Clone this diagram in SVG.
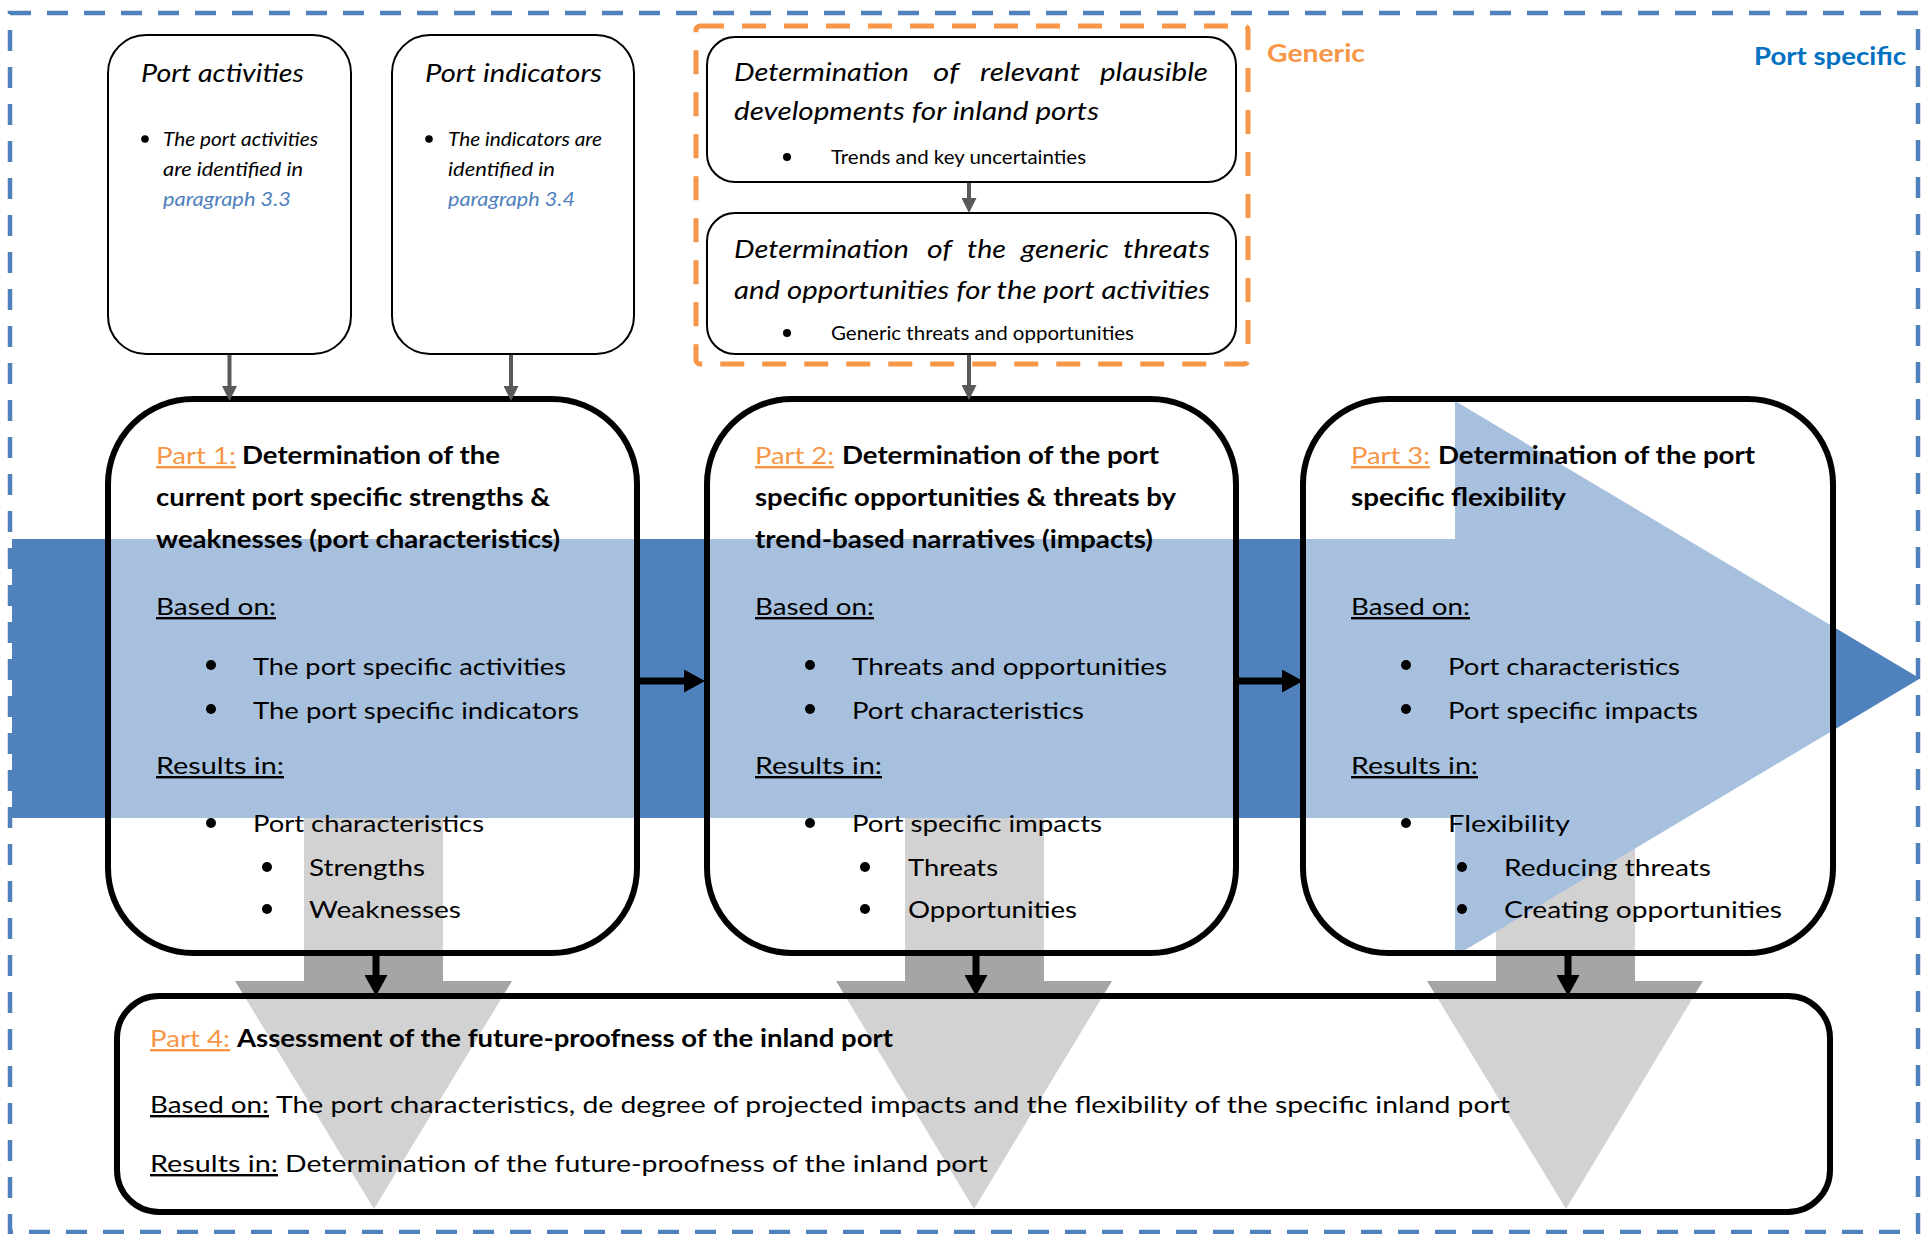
<svg xmlns="http://www.w3.org/2000/svg" width="1929" height="1234" viewBox="0 0 1929 1234">
<defs>
<style>
text{font-family:Lato,"Liberation Sans",sans-serif;fill:#000;}
.it{font-style:italic}
.b{font-weight:bold}
.u{text-decoration:underline}
.or{fill:#F79646}
.body{font-size:24px}
.hd{font-size:24px;font-weight:bold}
.ttl{font-size:26px;font-style:italic}
.sm{font-size:20px;font-style:italic}
.det{font-size:19px}
.lnk{fill:#4F81BD}
.small{stroke:#000;stroke-width:2;fill:#fff}
.part{stroke:#000;stroke-width:6;fill:#fff;fill-opacity:0.5}
.gbig{fill:#A5A5A5}
.gc{stroke:#595959;stroke-width:4;fill:none}
.bc{stroke:#000;stroke-width:7;fill:none}
</style>
<marker id="mg" markerUnits="userSpaceOnUse" markerWidth="15" markerHeight="15" refX="0" refY="7.5" orient="auto"><path d="M0,0 L15,7.5 L0,15 z" fill="#595959"/></marker>
<marker id="mb" markerUnits="userSpaceOnUse" markerWidth="21" markerHeight="23" refX="0" refY="11.5" orient="auto"><path d="M0,0 L21,11.5 L0,23 z" fill="#000"/></marker>
</defs>
<rect width="1929" height="1234" fill="#fff"/>

<g id="background-arrows">
<polygon class="gbig" points="304,760 443,760 443,981 512,981 374,1209 235,981 304,981"/>
<polygon class="gbig" points="905,760 1044,760 1044,981 1112,981 974,1209 836,981 905,981"/>
<polygon class="gbig" points="1496,760 1635,760 1635,981 1703,981 1566,1209 1427,981 1496,981"/>
<polygon fill="#4F81BD" points="12,539 1455,539 1455,401 1920,678.5 1455,956 1455,818 12,818"/>
</g>

<g id="frame-port-specific">
<rect x="10" y="13" width="1908" height="1219" fill="none" stroke="#4F81BD" stroke-width="4.5" stroke-dasharray="21 16"/>
<text x="1754" y="65" class="b" font-size="25" fill="#0070C0" style="fill:#0070C0" textLength="152" lengthAdjust="spacingAndGlyphs">Port specific</text>
</g>

<g id="frame-generic">
<rect x="696" y="26" width="552" height="338" rx="4" fill="none" stroke="#F79646" stroke-width="5" stroke-dasharray="24 18"/>
<text x="1267" y="62" class="b or" font-size="25" textLength="98" lengthAdjust="spacingAndGlyphs">Generic</text>
</g>

<g id="node-port-activities">
<rect class="small" x="108" y="35" width="243" height="319" rx="38"/>
<text x="141" y="82" class="ttl" textLength="163" lengthAdjust="spacingAndGlyphs">Port activities</text>
<circle cx="145" cy="139" r="3.8"/>
<text x="163" y="146" class="sm" textLength="155" lengthAdjust="spacingAndGlyphs">The port activities</text>
<text x="163" y="176" class="sm" textLength="140" lengthAdjust="spacingAndGlyphs">are identified in</text>
<text x="163" y="206" class="sm lnk" textLength="128" lengthAdjust="spacingAndGlyphs">paragraph 3.3</text>
</g>

<g id="node-port-indicators">
<rect class="small" x="392" y="35" width="242" height="319" rx="38"/>
<text x="425" y="82" class="ttl" textLength="177" lengthAdjust="spacingAndGlyphs">Port indicators</text>
<circle cx="429" cy="139" r="3.8"/>
<text x="448" y="146" class="sm" textLength="154" lengthAdjust="spacingAndGlyphs">The indicators are</text>
<text x="448" y="176" class="sm" textLength="107" lengthAdjust="spacingAndGlyphs">identified in</text>
<text x="448" y="206" class="sm lnk" textLength="127" lengthAdjust="spacingAndGlyphs">paragraph 3.4</text>
</g>

<g id="node-developments">
<rect class="small" x="707" y="37" width="529" height="145" rx="28"/>
<text y="81" class="ttl"><tspan x="734" textLength="175" lengthAdjust="spacingAndGlyphs">Determination</tspan><tspan x="933" textLength="26" lengthAdjust="spacingAndGlyphs">of</tspan><tspan x="980" textLength="100" lengthAdjust="spacingAndGlyphs">relevant</tspan><tspan x="1100" textLength="108" lengthAdjust="spacingAndGlyphs">plausible</tspan></text>
<text x="734" y="120" class="ttl" textLength="365" lengthAdjust="spacingAndGlyphs">developments for inland ports</text>
<circle cx="787" cy="157" r="4"/>
<text x="831" y="164" class="det" textLength="255" lengthAdjust="spacingAndGlyphs">Trends and key uncertainties</text>
</g>

<g id="node-generic-threats">
<rect class="small" x="707" y="213" width="529" height="141" rx="28"/>
<text y="258" class="ttl"><tspan x="734" textLength="175" lengthAdjust="spacingAndGlyphs">Determination</tspan><tspan x="927" textLength="25" lengthAdjust="spacingAndGlyphs">of</tspan><tspan x="967" textLength="39" lengthAdjust="spacingAndGlyphs">the</tspan><tspan x="1021" textLength="88" lengthAdjust="spacingAndGlyphs">generic</tspan><tspan x="1123" textLength="87" lengthAdjust="spacingAndGlyphs">threats</tspan></text>
<text x="734" y="299" class="ttl" textLength="476" lengthAdjust="spacingAndGlyphs">and opportunities for the port activities</text>
<circle cx="787" cy="333" r="4"/>
<text x="831" y="340" class="det" textLength="303" lengthAdjust="spacingAndGlyphs">Generic threats and opportunities</text>
</g>

<g id="node-part1">
<rect class="part" x="108" y="399" width="529" height="554" rx="85"/>
<text x="156" y="464" class="body or u" textLength="80" lengthAdjust="spacingAndGlyphs">Part 1:</text>
<text x="242" y="464" class="hd" textLength="258" lengthAdjust="spacingAndGlyphs">Determination of the</text>
<text x="156" y="506" class="hd" textLength="394" lengthAdjust="spacingAndGlyphs">current port specific strengths &amp;</text>
<text x="156" y="548" class="hd" textLength="404" lengthAdjust="spacingAndGlyphs">weaknesses (port characteristics)</text>
<text x="156" y="615" class="body u" textLength="120" lengthAdjust="spacingAndGlyphs">Based on:</text>
<circle cx="211" cy="665" r="5"/>
<text x="253" y="675" class="body" textLength="313" lengthAdjust="spacingAndGlyphs">The port specific activities</text>
<circle cx="211" cy="709" r="5"/>
<text x="253" y="719" class="body" textLength="326" lengthAdjust="spacingAndGlyphs">The port specific indicators</text>
<text x="156" y="774" class="body u" textLength="128" lengthAdjust="spacingAndGlyphs">Results in:</text>
<circle cx="211" cy="823" r="5"/>
<text x="253" y="832" class="body" textLength="231" lengthAdjust="spacingAndGlyphs">Port characteristics</text>
<circle cx="267" cy="867" r="5"/>
<text x="309" y="876" class="body" textLength="116" lengthAdjust="spacingAndGlyphs">Strengths</text>
<circle cx="267" cy="909" r="5"/>
<text x="309" y="918" class="body" textLength="152" lengthAdjust="spacingAndGlyphs">Weaknesses</text>
</g>

<g id="node-part2">
<rect class="part" x="707" y="399" width="529" height="554" rx="85"/>
<text x="755" y="464" class="body or u" textLength="79" lengthAdjust="spacingAndGlyphs">Part 2:</text>
<text x="842" y="464" class="hd" textLength="317" lengthAdjust="spacingAndGlyphs">Determination of the port</text>
<text x="755" y="506" class="hd" textLength="421" lengthAdjust="spacingAndGlyphs">specific opportunities &amp; threats by</text>
<text x="755" y="548" class="hd" textLength="398" lengthAdjust="spacingAndGlyphs">trend-based narratives (impacts)</text>
<text x="755" y="615" class="body u" textLength="119" lengthAdjust="spacingAndGlyphs">Based on:</text>
<circle cx="810" cy="665" r="5"/>
<text x="852" y="675" class="body" textLength="315" lengthAdjust="spacingAndGlyphs">Threats and opportunities</text>
<circle cx="810" cy="709" r="5"/>
<text x="852" y="719" class="body" textLength="232" lengthAdjust="spacingAndGlyphs">Port characteristics</text>
<text x="755" y="774" class="body u" textLength="127" lengthAdjust="spacingAndGlyphs">Results in:</text>
<circle cx="810" cy="823" r="5"/>
<text x="852" y="832" class="body" textLength="250" lengthAdjust="spacingAndGlyphs">Port specific impacts</text>
<circle cx="865" cy="867" r="5"/>
<text x="908" y="876" class="body" textLength="90" lengthAdjust="spacingAndGlyphs">Threats</text>
<circle cx="865" cy="909" r="5"/>
<text x="908" y="918" class="body" textLength="169" lengthAdjust="spacingAndGlyphs">Opportunities</text>
</g>

<g id="node-part3">
<rect class="part" x="1303" y="399" width="530" height="554" rx="85"/>
<text x="1351" y="464" class="body or u" textLength="79" lengthAdjust="spacingAndGlyphs">Part 3:</text>
<text x="1438" y="464" class="hd" textLength="317" lengthAdjust="spacingAndGlyphs">Determination of the port</text>
<text x="1351" y="506" class="hd" textLength="215" lengthAdjust="spacingAndGlyphs">specific flexibility</text>
<text x="1351" y="615" class="body u" textLength="119" lengthAdjust="spacingAndGlyphs">Based on:</text>
<circle cx="1406" cy="665" r="5"/>
<text x="1448" y="675" class="body" textLength="232" lengthAdjust="spacingAndGlyphs">Port characteristics</text>
<circle cx="1406" cy="709" r="5"/>
<text x="1448" y="719" class="body" textLength="250" lengthAdjust="spacingAndGlyphs">Port specific impacts</text>
<text x="1351" y="774" class="body u" textLength="127" lengthAdjust="spacingAndGlyphs">Results in:</text>
<circle cx="1406" cy="823" r="5"/>
<text x="1448" y="832" class="body" textLength="122" lengthAdjust="spacingAndGlyphs">Flexibility</text>
<circle cx="1462" cy="867" r="5"/>
<text x="1504" y="876" class="body" textLength="207" lengthAdjust="spacingAndGlyphs">Reducing threats</text>
<circle cx="1462" cy="909" r="5"/>
<text x="1504" y="918" class="body" textLength="278" lengthAdjust="spacingAndGlyphs">Creating opportunities</text>
</g>

<g id="node-part4">
<rect class="part" x="117" y="996" width="1713" height="216" rx="42"/>
<text x="150" y="1047" class="body or u" textLength="80" lengthAdjust="spacingAndGlyphs">Part 4:</text>
<text x="237" y="1047" class="hd" textLength="656" lengthAdjust="spacingAndGlyphs">Assessment of the future-proofness of the inland port</text>
<text x="150" y="1113" class="body u" textLength="119" lengthAdjust="spacingAndGlyphs">Based on:</text>
<text x="276" y="1113" class="body" textLength="1234" lengthAdjust="spacingAndGlyphs">The port characteristics, de degree of projected impacts and the flexibility of the specific inland port</text>
<text x="150" y="1172" class="body u" textLength="128" lengthAdjust="spacingAndGlyphs">Results in:</text>
<text x="285" y="1172" class="body" textLength="703" lengthAdjust="spacingAndGlyphs">Determination of the future-proofness of the inland port</text>
</g>

<g id="connectors">
<line class="gc" x1="229.5" y1="355" x2="229.5" y2="386" marker-end="url(#mg)"/>
<line class="gc" x1="511" y1="355" x2="511" y2="386" marker-end="url(#mg)"/>
<line class="gc" x1="969" y1="183" x2="969" y2="198" marker-end="url(#mg)"/>
<line class="gc" x1="969" y1="355" x2="969" y2="385" marker-end="url(#mg)"/>
<line class="bc" x1="640" y1="681" x2="684" y2="681" marker-end="url(#mb)"/>
<line class="bc" x1="1239" y1="681" x2="1282" y2="681" marker-end="url(#mb)"/>
<line class="bc" x1="376" y1="956" x2="376" y2="975" marker-end="url(#mb)"/>
<line class="bc" x1="976" y1="956" x2="976" y2="975" marker-end="url(#mb)"/>
<line class="bc" x1="1568" y1="956" x2="1568" y2="975" marker-end="url(#mb)"/>
</g>
</svg>
